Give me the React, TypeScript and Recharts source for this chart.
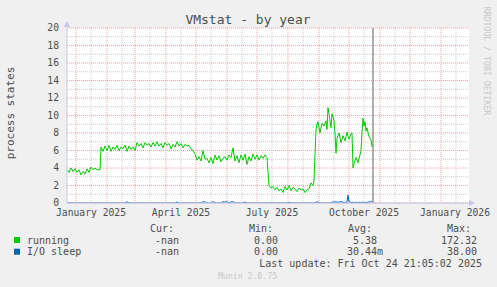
import React from 'react';
import { LineChart, Line, XAxis, YAxis, CartesianGrid, ReferenceLine } from 'recharts';

// day index 0 = 23 Dec 2024
const days = [0,2,4,6,8,10,12,14,16,18,20,22,24,26,28,30,32,33,34,36,38,40,42,44,46,48,50,52,54,56,58,60,62,64,66,68,70,72,74,76,78,80,82,84,86,88,90,92,94,96,98,100,102,104,106,108,110,112,114,116,118,120,122,124,126,128,130,132,134,136,138,140,142,144,146,148,150,152,154,156,158,160,162,164,166,168,170,172,174,176,178,180,182,184,186,188,190,192,194,196,198,200,202,204,206,208,210,212,214,216,218,220,222,224,226,228,230,232,234,236,238,240,242,244,246,247,249,250,251,253,255,257,259,260,261,262,264,265,267,268,269,270,272,274,276,278,280,281,282,284,285,286,287,289,291,293,294,295,296,297,298,299,300,302,304,305];
const running = [3.8,3.5,4.0,3.6,3.9,3.5,3.8,3.2,3.6,3.3,3.9,3.5,4.1,3.8,4.0,3.8,3.8,3.8,6.4,5.9,6.5,6.0,6.6,5.9,6.4,6.1,6.6,6.0,6.4,6.2,6.6,5.9,6.5,6.1,6.4,6.0,6.9,6.5,6.8,6.3,6.9,6.6,6.8,6.4,6.9,6.5,7.0,6.5,6.8,6.3,6.9,6.6,6.8,6.2,6.7,6.4,7.0,6.5,6.8,6.3,6.7,6.5,6.6,6.2,6.0,5.6,4.9,5.3,4.8,6.0,5.0,5.1,4.6,5.2,4.5,5.5,4.9,5.4,4.7,5.1,5.3,4.9,5.5,5.2,6.3,4.8,5.4,4.6,5.5,4.9,5.6,4.4,5.3,4.8,5.6,5.0,5.5,4.9,5.4,5.1,5.5,5.2,2.0,1.7,1.9,1.5,1.8,1.4,1.6,1.2,1.9,1.5,2.0,1.4,1.8,1.6,1.3,1.7,1.5,1.6,1.2,1.5,1.6,2.3,2.0,2.6,8.4,9.0,9.3,8.0,9.1,8.8,9.4,8.4,10.9,10.2,8.6,10.2,9.4,8.0,5.7,7.4,8.0,6.9,7.7,7.1,8.1,7.6,7.3,7.9,8.0,4.0,4.5,5.2,4.6,5.5,6.0,8.0,9.7,8.8,9.3,8.2,8.6,7.6,7.2,6.4];
const ioSleep = [0,0,0,0,0,0,0,0,0,0,0,0,0,0,0,0,0,0,0,0,0,0,0,0,0,0,0,0,0,0,0,0.15,0,0,0,0,0,0,0,0,0,0,0,0,0,0,0,0,0,0,0,0,0,0,0,0,0.12,0,0,0,0,0,0,0,0,0,0,0,0,0.15,0.12,0,0,0,0.18,0,0,0,0,0.15,0.1,0.15,0,0.12,0.15,0,0,0,0,0,0.12,0,0,0,0,0,0,0,0,0,0,0,0,0,0,0,0,0,0,0,0,0,0.08,0,0,0,0,0,0,0,0,0,0,0,0,0,0.1,0.1,0.12,0,0,0,0,0,0,0,0,0.12,0.1,0.15,0.1,0.12,0.1,0.15,0.1,0,0.1,0.9,0.15,0.1,0,0.12,0,0.1,0,0.12,0,0.1,0.1,0,0.12,0,0.1,0.1,0.15,0.25];

const xTicks = [24, 114, 205, 297, 388];
const xTickLabels = ['January 2025', 'April 2025', 'July 2025', 'October 2025', 'January 2026'];
const monthStarts = [9, 40, 68, 99, 129, 160, 190, 221, 252, 282, 313, 343, 374];
const midMonths = [24, 55, 83, 114, 144, 175, 205, 236, 267, 297, 328, 358, 389];
const yTicks = [0, 2, 4, 6, 8, 10, 12, 14, 16, 18, 20];
const yMinor = [1, 3, 5, 7, 9, 11, 13, 15, 17, 19];
const lastUpdateDay = 306;

const legendRows = [
  { name: 'running', color: '#00cc00', cur: '-nan', min: '0.00', avg: '5.38', max: '172.32' },
  { name: 'I/O sleep', color: '#0066b3', cur: '-nan', min: '0.00', avg: '30.44m', max: '38.00' },
];

const data = days.map((d, i) => ({ day: d, running: running[i], io: ioSleep[i] }));

const FONT = '"DejaVu Sans Mono", monospace';
const TXT = '#4d4d4d';
const AXIS = '#c4c4ec';
const RED = '#eba3a3';
const GREY = '#cacaca';

export default function App() {
  return (
    <div style={{ position: 'absolute', left: 0, top: 0, width: 497, height: 287, background: '#f0f0f0' }}>
      <LineChart width={497} height={287} data={data} margin={{ top: 28, right: 28, left: 30, bottom: 64 }}>
        <CartesianGrid fill="#ffffff" horizontal={false} vertical={false} />
        {midMonths.map((v) => (
          <ReferenceLine key={'mm' + v} x={v} stroke={GREY} strokeDasharray="1 1" />
        ))}
        {yMinor.map((v) => (
          <ReferenceLine key={'ym' + v} y={v} stroke={GREY} strokeDasharray="1 1" />
        ))}
        {monthStarts.map((v) => (
          <ReferenceLine key={'ms' + v} x={v} stroke={RED} strokeDasharray="1 1" />
        ))}
        {yTicks.map((v) => (
          <ReferenceLine key={'yt' + v} y={v} stroke={RED} strokeDasharray="1 1" />
        ))}
        <XAxis
          type="number"
          dataKey="day"
          domain={[0, 402]}
          ticks={xTicks}
          interval={0}
          allowDataOverflow
          tickFormatter={(v: number) => xTickLabels[xTicks.indexOf(v)] ?? ''}
          tickLine={false}
          tickSize={4}
          tickMargin={2}
          height={20}
          axisLine={{ stroke: AXIS }}
          tick={{ fontFamily: FONT, fontSize: 9.7, fill: TXT }}
        />
        <YAxis
          type="number"
          domain={[0, 20]}
          ticks={yTicks}
          interval={0}
          allowDataOverflow
          tickLine={false}
          width={37}
          axisLine={{ stroke: AXIS }}
          tick={{ fontFamily: FONT, fontSize: 9.7, fill: TXT }}
        />
        <ReferenceLine x={lastUpdateDay} stroke="#606060" />
        <Line type="linear" dataKey="running" stroke="#00cc00" strokeWidth={1} dot={false} isAnimationActive={false} />
        <Line type="linear" dataKey="io" stroke="#0066b3" strokeWidth={1} dot={false} isAnimationActive={false} />
      </LineChart>
      <svg width={497} height={287} style={{ position: 'absolute', left: 0, top: 0, pointerEvents: 'none' }}>
        <polygon points="64,27 70,27 67,21" fill={AXIS} />
        <polygon points="469,200 469,206 475,203" fill={AXIS} />
        <text x={248} y={19} textAnchor="middle" dominantBaseline="central" fontFamily={FONT} fontSize={13} fill={TXT}>
          VMstat - by year
        </text>
        <text x={10} y={113} transform="rotate(-90 10 113)" textAnchor="middle" dominantBaseline="central" fontFamily={FONT} fontSize={11} fill={TXT}>
          process states
        </text>
        <text x={487} y={61} transform="rotate(90 487 61)" textAnchor="middle" dominantBaseline="central" fontFamily={FONT} fontSize={8.2} fill="#c8c8c8">
          RRDTOOL / TOBI OETIKER
        </text>
        <g fontFamily={FONT} fontSize={10} fill={TXT}>
          <text x={150} y={228} dominantBaseline="central">Cur:</text>
          <text x={249} y={228} dominantBaseline="central">Min:</text>
          <text x={348} y={228} dominantBaseline="central">Avg:</text>
          <text x={447} y={228} dominantBaseline="central">Max:</text>
          {legendRows.map((r, i) => {
            const y = 240 + i * 11.7;
            return (
              <g key={r.name}>
                <rect x={14} y={y - 3} width={6} height={6} fill={r.color} />
                <text x={27} y={y} dominantBaseline="central">{r.name}</text>
                <text x={179} y={y} textAnchor="end" dominantBaseline="central">{r.cur}</text>
                <text x={278} y={y} textAnchor="end" dominantBaseline="central">{r.min}</text>
                <text x={r.avg.endsWith('m') ? 383 : 377} y={y} textAnchor="end" dominantBaseline="central">{r.avg}</text>
                <text x={477} y={y} textAnchor="end" dominantBaseline="central">{r.max}</text>
              </g>
            );
          })}
          <text x={482} y={263.5} textAnchor="end" dominantBaseline="central">Last update: Fri Oct 24 21:05:02 2025</text>
        </g>
        <text x={247.5} y={276} textAnchor="middle" dominantBaseline="central" fontFamily={FONT} fontSize={8.2} fill="#c8c8c8">
          Munin 2.0.75
        </text>
      </svg>
    </div>
  );
}
